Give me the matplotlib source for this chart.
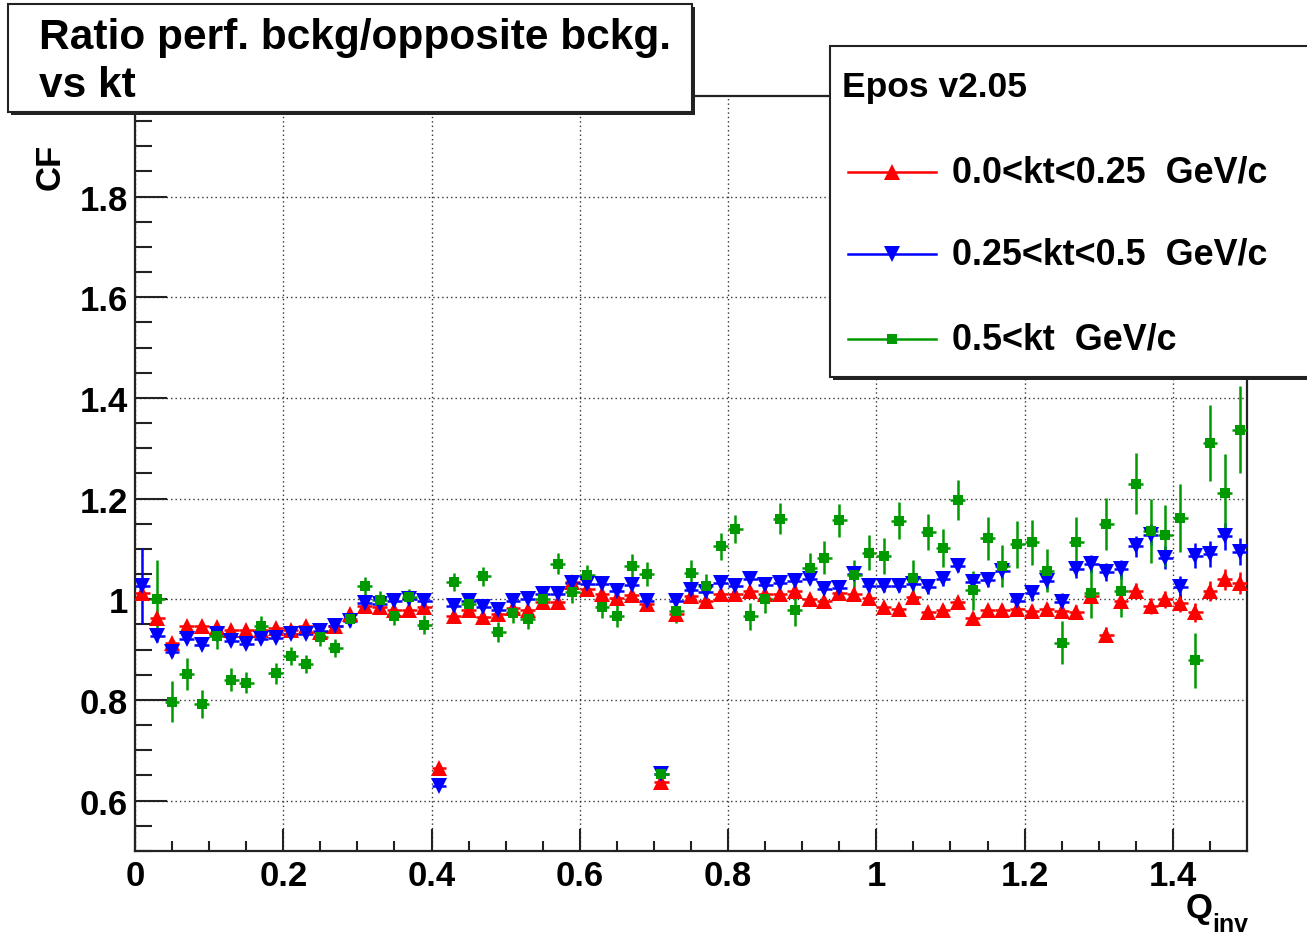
import numpy as np
import matplotlib
matplotlib.use("Agg")
import matplotlib.pyplot as plt
from matplotlib.patches import Rectangle
from matplotlib.lines import Line2D

plt.rcParams['font.family'] = ['Liberation Sans', 'DejaVu Sans']
plt.rcParams['font.weight'] = 'bold'

# bin centres of the Qinv histogram (0.02 wide bins)
qinv = np.arange(75) * 0.02 + 0.01

cf_low = [1.012, 0.962, 0.914, 0.948, 0.948, 0.945, 0.940, 0.940, 0.940, 0.944,
          0.940, 0.948, 0.935, 0.948, 0.970, 0.986, 0.984, 0.979, 0.979, 0.984,
          0.665, 0.967, 0.979, 0.964, 0.970, 0.982, 0.979, 0.994, 0.995, 1.035,
          1.020, 1.010, 1.003, 1.008, 0.990, 0.637, 0.970, 1.006, 0.997, 1.010,
          1.010, 1.016, 1.010, 1.010, 1.016, 1.000, 0.997, 1.013, 1.010, 1.003,
          0.984, 0.980, 1.004, 0.975, 0.979, 0.994, 0.963, 0.978, 0.978, 0.981,
          0.977, 0.980, 0.977, 0.974, 1.006, 0.930, 0.996, 1.016, 0.987, 1.000,
          0.992, 0.974, 1.016, 1.040, 1.033]
err_low = [0.012, 0.008, 0.007, 0.006, 0.006, 0.006, 0.006, 0.006, 0.006, 0.006,
           0.006, 0.006, 0.006, 0.006, 0.006, 0.006, 0.006, 0.006, 0.006, 0.006,
           0.006, 0.006, 0.006, 0.006, 0.006, 0.006, 0.006, 0.006, 0.006, 0.006,
           0.007, 0.007, 0.007, 0.007, 0.007, 0.007, 0.007, 0.007, 0.007, 0.007,
           0.008, 0.008, 0.008, 0.008, 0.008, 0.008, 0.008, 0.008, 0.008, 0.009,
           0.009, 0.009, 0.010, 0.010, 0.010, 0.011, 0.011, 0.011, 0.012, 0.012,
           0.012, 0.013, 0.013, 0.014, 0.014, 0.015, 0.015, 0.016, 0.016, 0.017,
           0.018, 0.019, 0.020, 0.021, 0.022]

cf_mid = [1.026, 0.927, 0.895, 0.921, 0.909, 0.931, 0.917, 0.911, 0.922, 0.924,
          0.931, 0.931, 0.937, 0.948, 0.957, 0.992, 0.990, 0.997, 1.001, 0.997,
          0.630, 0.986, 0.997, 0.984, 0.979, 0.997, 1.001, 1.010, 1.010, 1.033,
          1.030, 1.030, 1.016, 1.028, 0.997, 0.653, 0.997, 1.018, 1.014, 1.033,
          1.026, 1.041, 1.028, 1.033, 1.036, 1.041, 1.020, 1.023, 1.050, 1.026,
          1.026, 1.026, 1.030, 1.024, 1.040, 1.067, 1.034, 1.038, 1.056, 0.996,
          1.012, 1.036, 0.995, 1.060, 1.070, 1.054, 1.060, 1.105, 1.128, 1.083,
          1.024, 1.087, 1.090, 1.125, 1.095]
err_mid = [0.076, 0.012, 0.009, 0.008, 0.007, 0.007, 0.007, 0.007, 0.007, 0.007,
           0.007, 0.007, 0.007, 0.007, 0.007, 0.007, 0.007, 0.007, 0.007, 0.007,
           0.007, 0.007, 0.007, 0.007, 0.007, 0.007, 0.007, 0.007, 0.007, 0.008,
           0.008, 0.008, 0.008, 0.008, 0.008, 0.008, 0.008, 0.008, 0.009, 0.009,
           0.009, 0.009, 0.009, 0.010, 0.010, 0.010, 0.010, 0.011, 0.011, 0.011,
           0.012, 0.012, 0.012, 0.013, 0.013, 0.013, 0.014, 0.014, 0.015, 0.015,
           0.016, 0.016, 0.017, 0.017, 0.018, 0.018, 0.019, 0.020, 0.021, 0.022,
           0.023, 0.024, 0.025, 0.026, 0.027]

cf_high = [np.nan, 1.001, 0.797, 0.851, 0.792, 0.927, 0.840, 0.834, 0.947, 0.853,
           0.888, 0.871, 0.926, 0.904, 0.960, 1.027, 0.999, 0.967, 1.004, 0.950,
           np.nan, 1.034, 0.990, 1.046, 0.935, 0.972, 0.960, 1.000, 1.071, 1.014,
           1.048, 0.984, 0.967, 1.067, 1.051, 0.653, 0.977, 1.053, 1.026, 1.105,
           1.139, 0.966, 1.000, 1.160, 0.978, 1.063, 1.083, 1.157, 1.048, 1.093,
           1.086, 1.156, 1.043, 1.134, 1.102, 1.197, 1.018, 1.121, 1.066, 1.109,
           1.113, 1.057, 0.914, 1.113, 1.012, 1.150, 1.016, 1.230, 1.136, 1.127,
           1.162, 0.879, 1.311, 1.212, 1.337]
err_high = [0.0, 0.078, 0.041, 0.032, 0.027, 0.025, 0.023, 0.021, 0.020, 0.021,
            0.018, 0.018, 0.019, 0.018, 0.015, 0.018, 0.018, 0.018, 0.017, 0.019,
            0.0, 0.018, 0.019, 0.019, 0.019, 0.020, 0.019, 0.020, 0.021, 0.021,
            0.020, 0.021, 0.021, 0.024, 0.024, 0.010, 0.024, 0.025, 0.025, 0.027,
            0.028, 0.027, 0.027, 0.031, 0.030, 0.030, 0.032, 0.033, 0.031, 0.035,
            0.036, 0.037, 0.036, 0.036, 0.037, 0.040, 0.039, 0.043, 0.041, 0.047,
            0.045, 0.043, 0.043, 0.051, 0.050, 0.051, 0.051, 0.060, 0.064, 0.061,
            0.067, 0.055, 0.076, 0.076, 0.086]

labels = ["0.0<kt<0.25  GeV/c", "0.25<kt<0.5  GeV/c", "0.5<kt  GeV/c"]
colors = ["#ff0000", "#0000ff", "#009900"]
markers = ["^", "v", "s"]
msizes = [12, 12, 7]

W, H = 1307, 937
fig = plt.figure(figsize=(W / 100, H / 100), dpi=100)
ax = fig.add_axes([135 / W, 1 - 852 / H, (1247 - 135) / W, (852 - 97) / H])

series = [(cf_low, err_low), (cf_mid, err_mid), (cf_high, err_high)]
for (vals, errs), c, m, ms in zip(series, colors, markers, msizes):
    ax.errorbar(qinv, vals, yerr=errs, xerr=0.01, fmt=m, color=c, ms=ms,
                mew=0, elinewidth=1.8, capsize=0, zorder=3)

ax.set_xlim(0, 1.5)
ax.set_ylim(0.5, 2.0)
ax.set_xticks(np.arange(0, 1.41, 0.2))
ax.set_xticklabels(["0", "0.2", "0.4", "0.6", "0.8", "1", "1.2", "1.4"])
ax.set_xticks(np.arange(0, 1.5, 0.05), minor=True)
ax.set_yticks([0.6, 0.8, 1.0, 1.2, 1.4, 1.6, 1.8])
ax.set_yticklabels(["0.6", "0.8", "1", "1.2", "1.4", "1.6", "1.8"])
ax.set_yticks(np.arange(0.5, 2.0, 0.05), minor=True)
ax.tick_params(axis='both', which='both', direction='in', labelsize=25,
               width=1.5, color='#222222')
ax.tick_params(axis='x', which='major', length=16, pad=6)
ax.tick_params(axis='x', which='minor', length=7)
ax.tick_params(axis='y', which='major', length=23, pad=5)
ax.tick_params(axis='y', which='minor', length=12)
for lab in ax.get_xticklabels() + ax.get_yticklabels():
    lab.set_fontweight('bold')
ax.grid(True, which='major', color='#333333', linestyle=(0, (1, 2.2)), linewidth=1.0)
ax.set_axisbelow(True)
for s in ax.spines.values():
    s.set_linewidth(1.6)
    s.set_color('#222222')

# overlay in pixel coordinates for boxes and axis titles
ov = fig.add_axes([0, 0, 1, 1], zorder=10)
ov.set_xlim(0, W)
ov.set_ylim(H, 0)
ov.axis('off')
ov.patch.set_alpha(0)

# title pave with shadow
ov.add_patch(Rectangle((11, 8), 684, 108, facecolor='#222222', edgecolor='none'))
ov.add_patch(Rectangle((8, 5), 684, 108, facecolor='white', edgecolor='#222222', lw=1.5))
ov.text(39, 38, "Ratio perf. bckg/opposite bckg.", fontsize=30.5, fontweight='bold',
        va='center', ha='left')
ov.text(39, 86, "vs kt", fontsize=30.5, fontweight='bold', va='center', ha='left')

# legend box with shadow
ov.add_patch(Rectangle((833, 50), 480, 331, facecolor='#222222', edgecolor='none'))
ov.add_patch(Rectangle((830, 47), 480, 331, facecolor='white', edgecolor='#222222', lw=1.5))
ov.text(842, 88, "Epos v2.05", fontsize=25.5, fontweight='bold', va='center', ha='left')
for yy, lab, c, m, ms in zip([173, 255, 340], labels, colors, markers, msizes):
    ov.add_line(Line2D([848, 936], [yy, yy], color=c, lw=1.8))
    ov.plot([892], [yy], marker=m, color=c, ms=ms, mew=0)
    ov.text(952, yy, lab, fontsize=25.8, fontweight='bold', va='center', ha='left')

# axis titles
ov.text(50, 167, "CF", fontsize=25, fontweight='bold', rotation=90,
        va='center', ha='center')
ov.text(1213, 909, "Q", fontsize=25, fontweight='bold', va='center', ha='right')
ov.text(1212, 925, "inv", fontsize=18, fontweight='bold', va='center', ha='left')

fig.savefig("out.png", dpi=100)
